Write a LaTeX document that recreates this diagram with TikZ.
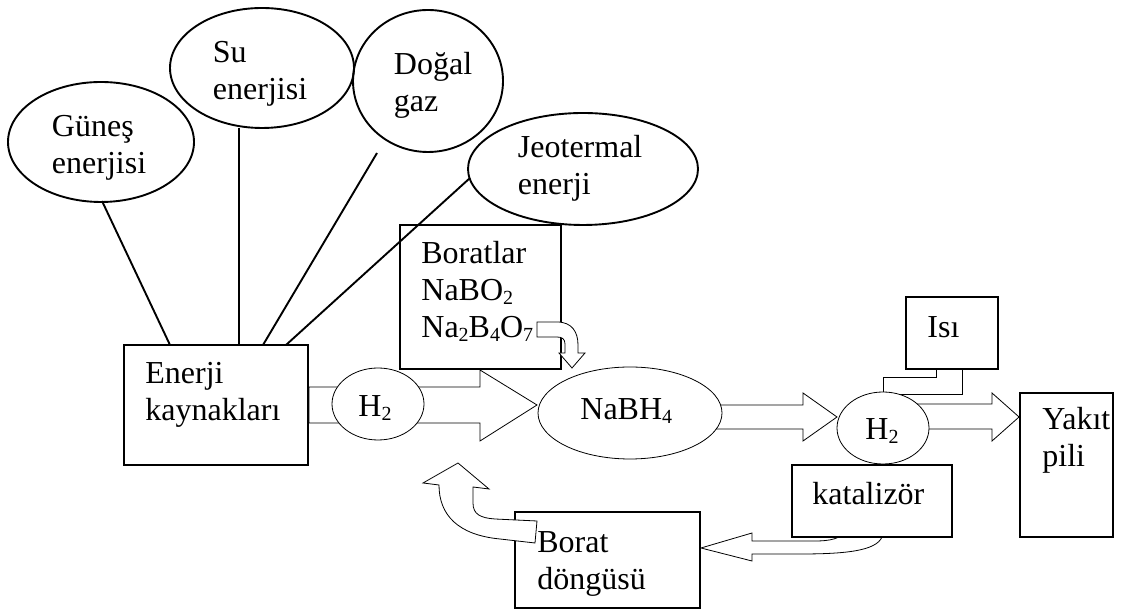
\documentclass[tikz,border=0pt]{standalone}
\usepackage{fontspec}
\setmainfont{Liberation Serif}
\usetikzlibrary{shapes.geometric}
\pgfdeclarelayer{background}
\pgfsetlayers{background,main}
\newcommand{\sbs}[1]{\raisebox{-2pt}{\fontsize{10}{10}\selectfont #1}}
\newcommand{\lines}[1]{\vtop{\baselineskip=18.5pt\lineskiplimit=-20pt\halign{##\hfil\cr#1\crcr}}}
\begin{document}
\begin{tikzpicture}[x=0.5pt,y=-0.5pt, line width=0.95pt,
  ell/.style={ellipse, draw, inner sep=0pt},
  wel/.style={ellipse, draw, fill=white, inner sep=0pt},
  box/.style={rectangle, draw, fill=white, inner sep=0pt},
  txt/.style={inner sep=0pt, anchor=base west, font=\fontsize{16}{18.5}\selectfont},
  blk/.style={draw, fill=white, line join=miter}]
\useasboundingbox (0,0) rectangle (1136,613);

% source ellipses
\node[ell, minimum width=93pt, minimum height=60pt] (guenes) at (101,142) {};
\node[ell, minimum width=92pt, minimum height=60pt] (su) at (262,68) {};
\node[ell, minimum width=75pt, minimum height=71pt] (dogal) at (428,81) {};
\node[ell, minimum width=115pt, minimum height=56pt] (jeo) at (583,169) {};
\node[txt] (tguenes) at (51,137) {\lines{Güneş\cr enerjisi}};
\node[txt] (tsu) at (212,63) {\lines{Su\cr enerjisi}};
\node[txt] (tdogal) at (393,75) {\lines{Doğal\cr gaz}};
\node[txt] (tjeo) at (517,158) {\lines{Jeotermal\cr enerji}};

% boxes
\node[box, minimum width=92pt, minimum height=60pt] (enerji) at (216,405) {};
\node[box, minimum width=80.5pt, minimum height=72pt] (borat) at (480.5,297) {};
\node[box, minimum width=46pt, minimum height=36pt] (isi) at (952,333) {};
\node[box, minimum width=46.5pt, minimum height=72pt] (yakit) at (1066.5,465) {};
\node[box, minimum width=80pt, minimum height=36pt] (katal) at (872,501) {};
\node[box, minimum width=92.5pt, minimum height=48pt] (dongu) at (607.5,560) {};

% connectors from sources
\coordinate (gA) at (102,201); \coordinate (gB) at (170,345);
\coordinate (sA) at (239,128); \coordinate (sB) at (239,345);
\coordinate (dA) at (377,153); \coordinate (dB) at (263,345);
\coordinate (jA) at (470,178); \coordinate (jB) at (286,345);
\draw (gA) -- (gB);
\draw (sA) -- (sB);
\draw (dA) -- (dB);
\draw (jA) -- (jB);

% block arrows (under nodes)
\begin{pgfonlayer}{background}
\draw[blk] (enerji.east |- 0,387) -- (480,387) -- (480,370) -- (537,405) -- (480,441) -- (480,423) -- (enerji.east |- 0,423) -- cycle;
\draw[blk] (700,405) -- (803,405) -- (803,393) -- (837,417) -- (803,441) -- (803,429) -- (700,429) -- cycle;
\draw[blk] (900,404) -- (992,404) -- (992,393) -- (yakit.west |- 0,417) -- (992,441) -- (992,429) -- (900,429) -- cycle;
\draw[blk] (936,369) -- (936,377) -- (883,377) -- (883,394) -- (962,394) -- (962,369) -- cycle;
\draw[blk] (dongu.east |- 0,548) -- (752,533) -- (752,541) -- (815,541) .. controls (830,541) and (840,539) .. (848,530) -- (880,530) -- (882,537) .. controls (876,551) and (845,554) .. (800,554) -- (752,554) -- (752,561) -- cycle;
\end{pgfonlayer}

% process ellipses
\node[wel, minimum width=46pt, minimum height=36pt] (h2a) at (378,404) {};
\node[wel, minimum width=92pt, minimum height=46pt] (nabh) at (630,413) {};
\node[wel, minimum width=46pt, minimum height=36pt] (h2b) at (883,428) {};

% arrows on top
\draw[blk] (537,322) -- (557,322) .. controls (572,322) and (578,332) .. (578,345) -- (578,353) -- (585,353) -- (572,368) -- (559,353) -- (565,353) -- (565,344) .. controls (565,339) and (562,337) .. (557,337) -- (537,337) -- cycle;
\draw[blk] (458,463) -- (489,489) -- (473,487) -- (473,503) .. controls (473,514) and (480,518) .. (495,519) -- (537,521) -- (535,543) -- (500,539) .. controls (458,535) and (439,515) .. (439,485) -- (423,483) -- cycle;

% texts
\node[txt] (tenerji) at (145,384) {\lines{Enerji\cr kaynakları}};
\node[txt] (tborat) at (421,264) {\lines{Boratlar\cr NaBO\sbs{2}\cr Na\sbs{2}B\sbs{4}O\sbs{7}}};
\node[txt] (th2a) at (358,417) {H\sbs{2}};
\node[txt] (tnabh) at (580,420) {NaBH\sbs{4}};
\node[txt] (th2b) at (865,440) {H\sbs{2}};
\node[txt] (tisi) at (927,338) {Isı};
\node[txt] (tyakit) at (1042,430) {\lines{Yakıt\cr pili}};
\node[txt] (tkatal) at (812,505) {katalizör};
\node[txt] (tdongu) at (537,553) {\lines{Borat\cr döngüsü}};
\end{tikzpicture}
\end{document}
